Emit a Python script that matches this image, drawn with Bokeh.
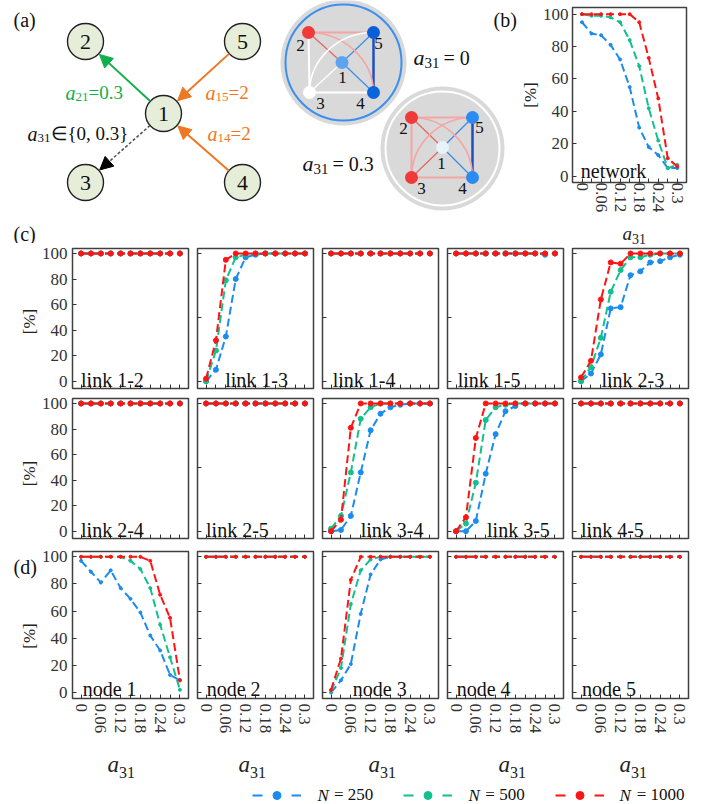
import numpy as np
from bokeh.plotting import figure
from bokeh.models import (Range1d, FixedTicker, Label, Arrow, NormalHead, Legend,
                          LegendItem, ColumnDataSource)
from bokeh.layouts import column, row
from bokeh.embed import file_html
from bokeh.resources import INLINE
from bokeh.core.properties import value

FONT = "Liberation Serif"

# ---------------- data ----------------
a31 = [0, 0.03, 0.06, 0.09, 0.12, 0.15, 0.18, 0.21, 0.24, 0.27, 0.3]
x_major_ticks = [0, 0.06, 0.12, 0.18, 0.24, 0.3]
x_minor_ticks = [0.03, 0.09, 0.15, 0.21, 0.27]
y_ticks = [0, 20, 40, 60, 80, 100]
y_ticks_sparse = [0, 50, 100]
series_labels = ["N = 250", "N = 500", "N = 1000"]
series_colors = ["#1A8CF0", "#12C08E", "#FF1414"]

flat100 = [100, 100, 100, 100, 100, 100, 100, 100, 100, 100, 100]

network_n250 = [95, 88, 87, 81, 72, 55, 30, 18, 13, 5, 5]
network_n500 = [100, 99, 99, 98, 95, 84, 68, 42, 22, 5, 7]
network_n1000 = [100, 100, 100, 100, 100, 100, 95, 73, 48, 11, 6]

link13_n250 = [0, 9, 35, 80, 97, 99, 100, 100, 100, 100, 100]
link13_n500 = [0, 24, 79, 97, 99, 100, 100, 100, 100, 100, 100]
link13_n1000 = [2, 32, 95, 100, 100, 100, 100, 100, 100, 100, 100]
link15_n250 = [100, 100, 100, 100, 100, 100, 100, 100, 100, 99, 100]
link23_n250 = [0, 6, 21, 57, 58, 83, 86, 93, 94, 97, 99]
link23_n500 = [0, 11, 34, 70, 87, 97, 97, 99, 100, 100, 100]
link23_n1000 = [3, 16, 64, 93, 92, 100, 100, 100, 100, 100, 100]
link34_n250 = [0, 1, 12, 46, 79, 92, 97, 99, 100, 100, 100]
link34_n500 = [2, 12, 46, 88, 97, 100, 100, 100, 100, 100, 100]
link34_n1000 = [0, 9, 81, 100, 100, 100, 100, 100, 100, 100, 100]
link35_n250 = [0, 0, 8, 45, 76, 94, 98, 100, 100, 100, 100]
link35_n500 = [0, 6, 38, 87, 97, 99, 100, 100, 100, 100, 100]
link35_n1000 = [0, 11, 73, 100, 100, 100, 100, 100, 100, 100, 100]

node1_n250 = [97, 89, 81, 90, 77, 69, 59, 42, 31, 13, 9]
node1_n500 = [100, 100, 100, 100, 100, 97, 91, 77, 50, 26, 2]
node1_n1000 = [100, 100, 100, 100, 100, 100, 100, 97, 72, 55, 9]
node3_n250 = [0, 9, 21, 58, 87, 98, 100, 100, 100, 100, 100]
node3_n500 = [1, 18, 65, 90, 98, 100, 100, 100, 100, 100, 100]
node3_n1000 = [2, 25, 83, 100, 100, 100, 100, 100, 100, 100, 100]

link_names = ["link 1-2", "link 1-3", "link 1-4", "link 1-5", "link 2-3",
              "link 2-4", "link 2-5", "link 3-4", "link 3-5", "link 4-5"]
link_series = [
    (flat100, flat100, flat100),
    (link13_n250, link13_n500, link13_n1000),
    (flat100, flat100, flat100),
    (link15_n250, flat100, flat100),
    (link23_n250, link23_n500, link23_n1000),
    (flat100, flat100, flat100),
    (flat100, flat100, flat100),
    (link34_n250, link34_n500, link34_n1000),
    (link35_n250, link35_n500, link35_n1000),
    (flat100, flat100, flat100),
]
node_names = ["node 1", "node 2", "node 3", "node 4", "node 5"]
node_series = [
    (node1_n250, node1_n500, node1_n1000),
    (flat100, flat100, flat100),
    (node3_n250, node3_n500, node3_n1000),
    (flat100, flat100, flat100),
    (flat100, flat100, flat100),
]

# label positions (layout, not data)
link_label_x = [0, 0.058, 0.005, 0.005, 0.062, 0, 0, 0.09, 0.094, 0]
node_label_x = [0.005, 0.002, 0.066, 0.002, 0.003]
a31_label_dx = [38, 44, 49, 54, 50]

# ---------------- diagram (panel a) geometry ----------------
net_nodes = ["1", "2", "3", "4", "5"]
net_x = [163, 85, 85, 242, 242]
net_y = [113, 41, 182, 182, 41]
net_r = 18

disk_cx = [343, 442]
disk_cy = [62, 148]
disk_r = [63, 62]
ring_r = [58, 57]
ring_color = ["#3A8FF0", "#FFFFFF"]

d1_x = {"1": 341.5, "2": 308, "3": 309, "4": 373, "5": 373}
d1_y = {"1": 62, "2": 32, "3": 92, "4": 92, "5": 32}
d2_x = {"1": 442, "2": 411, "3": 411, "4": 472, "5": 472}
d2_y = {"1": 147, "2": 117, "3": 177, "4": 177, "5": 117}
d1_node_color = {"1": "#5BA5F0", "2": "#F03A3A", "3": "#FFFFFF", "4": "#0A64DC", "5": "#0A5FD8"}
d2_node_color = {"1": "#E8F2FA", "2": "#F03A3A", "3": "#F03A3A", "4": "#2A8CF0", "5": "#2A8CF0"}

PINK = "#F4A6A6"
RED_T = "#E46464"
BLUE_T = "#3C8CE6"
BLUE_D = "#1D4FBF"
d1_edges = [("2", "5", PINK, 2), ("2", "3", "white", 2), ("3", "4", "white", 2),
            ("2", "1", RED_T, 1.2), ("3", "1", "white", 1.2), ("1", "5", BLUE_T, 1.2),
            ("1", "4", BLUE_T, 1.2), ("5", "4", BLUE_D, 2.5)]
d1_arcs = [("2", "4", "3", PINK, 1.6), ("3", "5", "4", "white", 1.6)]
d2_edges = [("2", "5", PINK, 2), ("2", "3", PINK, 2), ("3", "4", PINK, 2),
            ("2", "1", RED_T, 1.2), ("3", "1", RED_T, 1.2), ("1", "5", BLUE_T, 1.2),
            ("1", "4", BLUE_T, 1.2), ("5", "4", BLUE_D, 2.5)]
d2_arcs = [("2", "4", "3", PINK, 1.6), ("3", "5", "4", PINK, 1.6)]

d1_lab = {"2": (300, 45), "5": (378, 43), "1": (342, 77), "3": (320, 103), "4": (360, 103)}
d2_lab = {"2": (403, 128), "5": (479, 127), "1": (441, 163), "3": (421, 188), "4": (462, 188)}

GREEN_A = "#13AE4E"
ORANGE_A = "#EE7722"
# (text, x, y, size, style, color)
diagram_texts = [
    ("a", 65, 92, 20, "italic", GREEN_A), ("21", 75, 96.5, 13, "normal", GREEN_A),
    ("=0.3", 88, 92, 19, "normal", GREEN_A),
    ("a", 205, 92, 20, "italic", ORANGE_A), ("15", 215, 96.5, 13, "normal", ORANGE_A),
    ("=2", 228, 92, 19, "normal", ORANGE_A),
    ("a", 207, 133, 20, "italic", ORANGE_A), ("14", 217, 137.5, 13, "normal", ORANGE_A),
    ("=2", 230, 133, 19, "normal", ORANGE_A),
    ("a", 27, 133, 20, "italic", "#111"), ("31", 37, 137.5, 13, "normal", "#111"),
    ("\u2208{0, 0.3}", 50, 133, 19, "normal", "#111"),
    ("a", 413, 57, 22, "italic", "#111"), ("31", 424, 62, 15, "normal", "#111"),
    ("= 0", 443, 57, 20, "normal", "#111"),
    ("a", 302, 163, 22, "italic", "#111"), ("31", 313, 168, 15, "normal", "#111"),
    ("= 0.3", 332, 163, 20, "normal", "#111"),
    ("(a)", 13, 19, 20, "normal", "#111"), ("(b)", 493, 19, 20, "normal", "#111"),
    ("(c)", 13, 233, 20, "normal", "#111"),
]


def put_text(p, t, x, y, size, style="normal", color="#111", align="left",
             baseline="alphabetic", angle=0):
    p.text(x=[x], y=[y], text=[t], text_font=value(FONT), text_font_size=f"{size}px",
           text_font_style=style, text_color=color, text_align=align,
           text_baseline=baseline, angle=angle)


def blank_fig(w, h, flip=False):
    p = figure(frame_width=w, frame_height=h, min_border=0, x_range=Range1d(0, w),
               y_range=Range1d(h, 0) if flip else Range1d(0, h), x_axis_location=None,
               y_axis_location=None, output_backend="svg", toolbar_location=None)
    p.grid.visible = False
    p.outline_line_color = None
    return p


TOP_H = 243

# ---------------- panel (a) ----------------
pa = blank_fig(517, TOP_H, flip=True)

arrows = [("1", "2", GREEN_A, None), ("5", "1", ORANGE_A, None), ("4", "1", ORANGE_A, None),
          ("1", "3", "#555555", "3 2")]
for a, b, c, dash in arrows:
    ia, ib = net_nodes.index(a), net_nodes.index(b)
    p0 = np.array([net_x[ia], net_y[ia]], float)
    p1 = np.array([net_x[ib], net_y[ib]], float)
    u = (p1 - p0) / np.linalg.norm(p1 - p0)
    s = p0 + net_r * u
    e = p1 - (net_r + 1) * u
    head_c = "black" if dash else c
    arr = Arrow(x_start=s[0], y_start=s[1], x_end=e[0], y_end=e[1], line_color=c,
                line_width=2 if not dash else 1.6,
                end=NormalHead(size=13, fill_color=head_c, line_color=head_c))
    if dash:
        arr.line_dash = dash
    pa.add_layout(arr)

pa.circle(x=net_x, y=net_y, radius=net_r, fill_color="#E6EEDA", line_color="#222222",
          line_width=1.4)
pa.text(x=net_x, y=net_y, text=net_nodes, text_font=value(FONT), text_font_size="22px",
        text_align="center", text_baseline="middle", text_color="#111")

pa.circle(x=disk_cx, y=disk_cy, radius=disk_r, fill_color="#D9D9D9", line_color=None)
pa.circle(x=disk_cx, y=disk_cy, radius=ring_r, fill_color=None, line_color=ring_color,
          line_width=2)

for nx, ny, edges, arcs, ncol, labs in [(d1_x, d1_y, d1_edges, d1_arcs, d1_node_color, d1_lab),
                                         (d2_x, d2_y, d2_edges, d2_arcs, d2_node_color, d2_lab)]:
    for a, b, c, w in edges:
        pa.line(x=[nx[a], nx[b]], y=[ny[a], ny[b]], line_color=c, line_width=w)
    k = 0.5523
    for a, b, cc, c, w in arcs:
        A = np.array([nx[a], ny[a]]); B = np.array([nx[b], ny[b]]); C = np.array([nx[cc], ny[cc]])
        c1 = A + k * (B - C)
        c2 = B + k * (A - C)
        pa.bezier(x0=[A[0]], y0=[A[1]], x1=[B[0]], y1=[B[1]], cx0=[c1[0]], cy0=[c1[1]],
                  cx1=[c2[0]], cy1=[c2[1]], line_color=c, line_width=w)
    keys = list(nx.keys())
    pa.circle(x=[nx[q] for q in keys], y=[ny[q] for q in keys], radius=6.5,
              fill_color=[ncol[q] for q in keys], line_color=None)
    pa.text(x=[labs[q][0] for q in keys], y=[labs[q][1] for q in keys], text=keys,
            text_font=value(FONT), text_font_size="17px", text_align="center",
            text_baseline="middle", text_color="#111")

for t, x, y, sz, st, c in diagram_texts:
    put_text(pa, t, x, y, sz, st, c)


# ---------------- axes styling ----------------
def style(p, show_x, show_y, yticks, ylabel=None):
    p.grid.visible = False
    p.outline_line_color = "#404040"
    p.outline_line_width = 1.5
    p.xaxis.ticker = FixedTicker(ticks=x_major_ticks, minor_ticks=x_minor_ticks)
    p.yaxis.ticker = FixedTicker(ticks=yticks)
    for ax in (p.xaxis[0], p.yaxis[0]):
        ax.axis_line_color = None
        ax.major_tick_in = 4
        ax.major_tick_out = 0
        ax.minor_tick_in = 4
        ax.minor_tick_out = 0
        ax.major_tick_line_color = "#333333"
        ax.minor_tick_line_color = "#333333"
        ax.major_label_text_font = FONT
        ax.major_label_text_font_size = "17px"
        ax.major_label_text_color = "#333333"
    p.yaxis.minor_tick_line_color = None
    if show_x:
        p.xaxis.major_label_orientation = "vertical"
        p.xaxis.major_label_standoff = 5
    else:
        p.xaxis.major_label_text_font_size = "1px"
        p.xaxis.major_label_text_color = None
        p.xaxis.major_label_standoff = 0
    if show_y:
        p.yaxis.major_label_standoff = 5
        if ylabel:
            p.yaxis.axis_label = ylabel
            p.yaxis.axis_label_text_font = FONT
            p.yaxis.axis_label_text_font_size = "17px"
            p.yaxis.axis_label_text_font_style = "normal"
            p.yaxis.axis_label_text_color = "#222222"
            p.yaxis.axis_label_standoff = 0
    else:
        p.yaxis.major_label_text_font_size = "1px"
        p.yaxis.major_label_text_color = None
        p.yaxis.major_label_standoff = 0


def draw(p, ys, size):
    for y, c in zip(ys, series_colors):
        p.line(a31, y, line_color=c, line_width=2, line_dash="8 4")
        p.scatter(a31, y, size=size, fill_color=c, line_color=c)


def a31_text(p, x, y, size_a, size_s, drop=None):
    # y measured upward (unflipped strip)
    d = size_a * 0.33 if drop is None else drop
    put_text(p, "a", x, y, size_a, "italic", "#222222")
    put_text(p, "31", x + size_a * 0.5, y - d, size_s, "normal", "#222222")


# ---------------- panel (b) ----------------
PB_BOTTOM = 31
pb = figure(frame_width=114, frame_height=175, min_border_left=51, min_border_right=20,
            min_border_top=7, min_border_bottom=PB_BOTTOM, x_range=Range1d(-0.030, 0.329),
            y_range=Range1d(-3.9, 104.1), output_backend="svg", toolbar_location=None)
style(pb, True, True, y_ticks, "[%]")
pb.yaxis.major_label_standoff = 4
pb.xaxis.major_label_standoff = 0
draw(pb, (network_n250, network_n500, network_n1000), 3)
pb.add_layout(Label(x=-0.004, y=3.3, text="network", text_font=FONT, text_font_size="20px",
                    text_baseline="alphabetic", text_color="#111"))
PB_STRIP_H = TOP_H - 7 - 175 - PB_BOTTOM
pb_strip = blank_fig(185, PB_STRIP_H)
a31_text(pb_strip, 50, 12, 19, 14, drop=5.5)

top = row(pa, column(pb, pb_strip))

# ---------------- panels (c) and (d) ----------------
GUTTER_W = 38
COL0_LEFT = 31
ROW_SPECS = {"c1": (140, 3, 5, (-5.7, 103.9)),
             "c2": (140, 5, 2, (-5.7, 103.9)),
             "d": (147, 11, 38, (-4.4, 103.9))}


def small(col, kind):
    fh, tb, bb, yr = ROW_SPECS[kind]
    p = figure(frame_width=116, frame_height=fh, min_border_left=COL0_LEFT if col == 0 else 7,
               min_border_right=2, min_border_top=tb, min_border_bottom=bb,
               x_range=Range1d(-0.026, 0.326), y_range=Range1d(*yr),
               output_backend="svg", toolbar_location=None)
    yt = y_ticks if (col == 0 or kind == "d") else y_ticks_sparse
    style(p, kind == "d", col == 0, yt)
    return p


def gutter(kind, panel_label=None):
    fh, tb, bb, yr = ROW_SPECS[kind]
    h = tb + fh + bb
    g = blank_fig(GUTTER_W, h)
    put_text(g, "[%]", 29, bb + fh / 2, 17, "normal", "#222222", align="center",
             baseline="middle", angle=np.pi / 2)
    if panel_label:
        put_text(g, panel_label, 13, h - 15, 20, "normal", "#111")
    return g


rows = []
for r, kind in enumerate(["c1", "c2"]):
    figs = [gutter(kind)]
    for col in range(5):
        i = r * 5 + col
        p = small(col, kind)
        draw(p, link_series[i], 5)
        p.add_layout(Label(x=link_label_x[i], y=1, text=link_names[i], text_font=FONT,
                           text_font_size="20px", text_baseline="alphabetic", text_color="#111"))
        figs.append(p)
    rows.append(row(*figs))

dfigs = [gutter("d", "(d)")]
for col in range(5):
    p = small(col, "d")
    draw(p, node_series[col], 3)
    p.add_layout(Label(x=node_label_x[col], y=2.4, text=node_names[col], text_font=FONT,
                       text_font_size="20px", text_baseline="alphabetic", text_color="#111"))
    dfigs.append(p)
rows.append(row(*dfigs))

# ---------------- bottom strip: a31 labels + legend ----------------
STRIP_H = 70
ps = blank_fig(702, STRIP_H)
frame_lefts = [GUTTER_W + COL0_LEFT + c * 125 for c in range(5)]
for c in range(5):
    a31_text(ps, frame_lefts[c] + a31_label_dx[c], 42, 23, 16)

items = []
for lab, c in zip(series_labels, series_colors):
    src = ColumnDataSource(dict(x=[-100], y=[-100]))
    rl = ps.line("x", "y", source=src, line_color=c, line_width=2, line_dash="10 29")
    rs = ps.scatter("x", "y", source=src, size=7, fill_color=c, line_color=c)
    items.append(LegendItem(label="\u00a0\u00a0\u00a0" + lab[1:], renderers=[rl, rs]))
LEG_X0, GLYPH_W, STANDOFF, LAB_W, SPACING = 252, 49, 16, 56, 30
leg = Legend(items=items, orientation="horizontal", location=(LEG_X0, 1), glyph_width=GLYPH_W,
             glyph_height=20, label_standoff=STANDOFF, spacing=SPACING, padding=0, margin=0,
             border_line_color=None, background_fill_alpha=0, label_text_font=FONT,
             label_text_font_size="17px", label_text_color="#111", label_height=20)
ps.add_layout(leg)
n_x = [LEG_X0 + GLYPH_W + STANDOFF + i * (GLYPH_W + STANDOFF + LAB_W + SPACING) for i in range(3)]
ps.text(x=n_x, y=[11, 11, 11], text=["N", "N", "N"], text_font=value(FONT),
        text_font_size="17px", text_font_style="italic", text_baseline="middle",
        text_color="#111")

layout = column(top, rows[0], rows[1], rows[2], ps)
open("out.html", "w").write(file_html(layout, INLINE))
